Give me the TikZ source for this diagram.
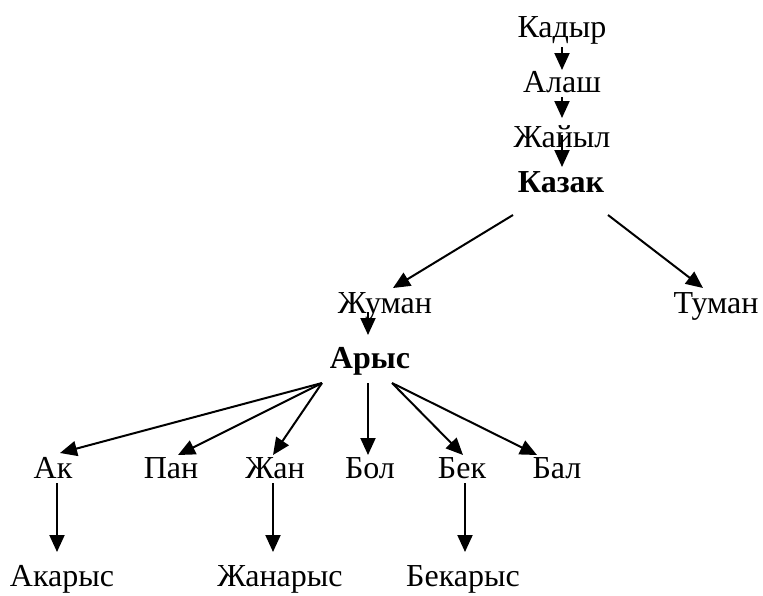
\documentclass[tikz,border=0pt]{standalone}
\usepackage{fontspec}
\setmainfont{Liberation Serif}
\usetikzlibrary{arrows.meta}
\tikzset{
  lbl/.style={anchor=base, inner sep=0pt, outer sep=0pt, font=\fontsize{32}{38}\selectfont},
  blbl/.style={lbl, font=\fontsize{32}{38}\selectfont\bfseries},
  arr/.style={line width=2pt, -{Triangle[length=17pt,width=15pt]}}
}
\begin{document}
\begin{tikzpicture}[x=1pt,y=-1pt]
\useasboundingbox (0,0) rectangle (763,595);
\node[lbl] (kadyr) at (562,37) {Кадыр};
\node[lbl] (alash) at (562,92) {Алаш};
\node[lbl] (zhaiyl) at (562,147) {Жайыл};
\node[blbl] (kazak) at (561,192) {Казак};
\node[lbl] (zhuman) at (385,313) {Жуман};
\node[lbl] (tuman) at (716,313) {Туман};
\node[blbl] (arys) at (370,368) {Арыс};
\node[lbl] (ak) at (53,478) {Ак};
\node[lbl] (pan) at (171,478) {Пан};
\node[lbl] (zhan) at (275,478) {Жан};
\node[lbl] (bol) at (370,478) {Бол};
\node[lbl] (bek) at (462,478) {Бек};
\node[lbl] (bal) at (557,478) {Бал};
\node[lbl] (akarys) at (62,586) {Акарыс};
\node[lbl] (zhanarys) at (280,586) {Жанарыс};
\node[lbl] (bekarys) at (463,586) {Бекарыс};

\draw[arr] ([shift={(0,10)}]kadyr.base) -- ([shift={(0,-22)}]alash.base);
\draw[arr] ([shift={(0,5)}]alash.base) -- ([shift={(0,-29)}]zhaiyl.base);
\draw[arr] ([shift={(0,-12)}]zhaiyl.base) -- ([shift={(1,-25)}]kazak.base);
\draw[arr] ([shift={(-48,23)}]kazak.base) -- ([shift={(8,-25)}]zhuman.base);
\draw[arr] ([shift={(47,23)}]kazak.base) -- ([shift={(-13,-25)}]tuman.base);
\draw[arr] ([shift={(-17,-1)}]zhuman.base) -- ([shift={(-2,-33)}]arys.base);
\draw[arr] ([shift={(-48,15)}]arys.base) -- ([shift={(7,-25)}]ak.base);
\draw[arr] ([shift={(-48,15)}]arys.base) -- ([shift={(7,-23)}]pan.base);
\draw[arr] ([shift={(-48,15)}]arys.base) -- ([shift={(-2,-23)}]zhan.base);
\draw[arr] ([shift={(-2,15)}]arys.base) -- ([shift={(-2,-23)}]bol.base);
\draw[arr] ([shift={(22,15)}]arys.base) -- ([shift={(1,-23)}]bek.base);
\draw[arr] ([shift={(22,15)}]arys.base) -- ([shift={(-20,-23)}]bal.base);
\draw[arr] ([shift={(4,5)}]ak.base) -- ([shift={(-5,-34)}]akarys.base);
\draw[arr] ([shift={(-2,5)}]zhan.base) -- ([shift={(-7,-34)}]zhanarys.base);
\draw[arr] ([shift={(3,5)}]bek.base) -- ([shift={(2,-34)}]bekarys.base);
\end{tikzpicture}
\end{document}
